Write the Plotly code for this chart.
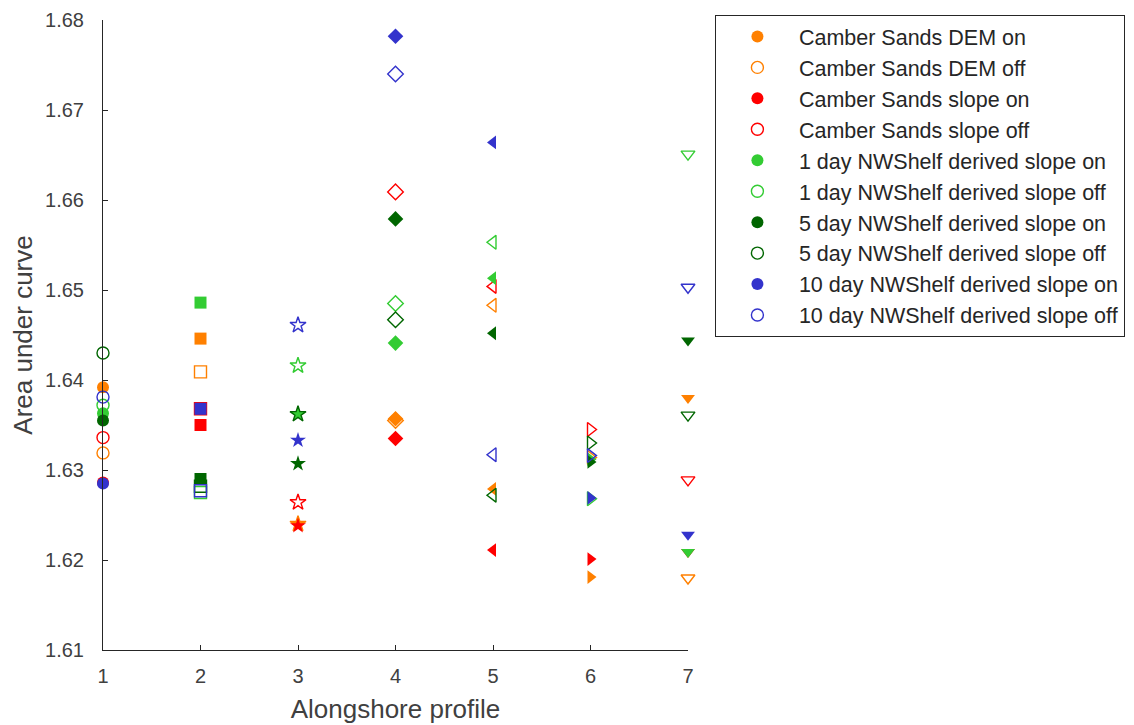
import plotly.graph_objects as go

profiles = [1, 2, 3, 4, 5, 6, 7]
symbols = ["circle", "square", "star", "diamond", "triangle-left", "triangle-right", "triangle-down"]

names = [
    "Camber Sands DEM on", "Camber Sands DEM off",
    "Camber Sands slope on", "Camber Sands slope off",
    "1 day NWShelf derived slope on", "1 day NWShelf derived slope off",
    "5 day NWShelf derived slope on", "5 day NWShelf derived slope off",
    "10 day NWShelf derived slope on", "10 day NWShelf derived slope off",
]

dem_on = [1.6392, 1.6446, 1.6240, 1.6357, 1.6279, 1.6181, 1.6380]
dem_off = [1.6319, 1.6409, 1.6240, 1.6355, 1.6483, 1.6314, 1.6180]
slope_on = [1.6286, 1.6350, 1.6238, 1.6335, 1.6211, 1.6201, 1.6209]
slope_off = [1.6336, 1.6368, 1.6264, 1.6609, 1.6504, 1.6345, 1.6289]
d1_on = [1.6363, 1.6486, 1.6362, 1.6441, 1.6513, 1.6312, 1.6209]
d1_off = [1.6372, 1.6275, 1.6416, 1.6485, 1.6553, 1.6268, 1.6651]
d5_on = [1.6355, 1.6290, 1.6307, 1.6579, 1.6452, 1.6309, 1.6444]
d5_off = [1.6430, 1.6282, 1.6362, 1.6467, 1.6272, 1.6330, 1.6361]
d10_on = [1.6285, 1.6368, 1.6333, 1.6782, 1.6664, 1.6269, 1.6228]
d10_off = [1.6381, 1.6277, 1.6461, 1.6740, 1.6317, 1.6316, 1.6503]

series = [dem_on, dem_off, slope_on, slope_off, d1_on, d1_off, d5_on, d5_off, d10_on, d10_off]

orange = "rgb(255,128,0)"
red = "rgb(255,0,0)"
lgreen = "rgb(51,204,51)"
dgreen = "rgb(0,102,0)"
blue = "rgb(51,51,204)"
colors = [orange, orange, red, red, lgreen, lgreen, dgreen, dgreen, blue, blue]
filled = [True, False] * 5

fig = go.Figure()
for name, vals, col, fill in zip(names, series, colors, filled):
    syms = symbols if fill else [s + "-open" for s in symbols]
    fig.add_trace(go.Scatter(
        x=profiles, y=vals, mode="markers", name=name, cliponaxis=False,
        marker=dict(symbol=syms, size=12, color=col,
                    line=dict(color=col, width=0 if fill else 1.4)),
    ))

axis_col = "#262626"
fig.update_layout(
    width=1134, height=725,
    margin=dict(l=103, r=446, t=20, b=75, autoexpand=False),
    paper_bgcolor="white", plot_bgcolor="white",
    font=dict(family="Liberation Sans, Arial, sans-serif", color="#404040"),
    showlegend=True,
    legend=dict(
        x=1.046, y=1.008, xanchor="left", yanchor="top",
        bordercolor=axis_col, borderwidth=1, bgcolor="white",
        font=dict(size=21.5, color="#262626"),
        itemwidth=73,
    ),
    xaxis=dict(
        range=[1, 7], tickvals=profiles, ticks="inside", ticklen=5,
        tickcolor=axis_col, showline=True, linecolor=axis_col, linewidth=1,
        showgrid=False, zeroline=False, tickfont=dict(size=20),
        ticklabelstandoff=8,
        title=dict(text="Alongshore profile", font=dict(size=26), standoff=13),
    ),
    yaxis=dict(
        range=[1.61, 1.68], dtick=0.01, tickformat=".2f", ticks="inside", ticklen=5,
        tickcolor=axis_col, showline=True, linecolor=axis_col, linewidth=1,
        showgrid=False, zeroline=False, tickfont=dict(size=20),
        ticklabelstandoff=14,
        title=dict(text="Area under curve", font=dict(size=26), standoff=4),
    ),
)

fig.write_html("out.html", post_script="document.body.style.margin='0';",
               config={"displayModeBar": False})
